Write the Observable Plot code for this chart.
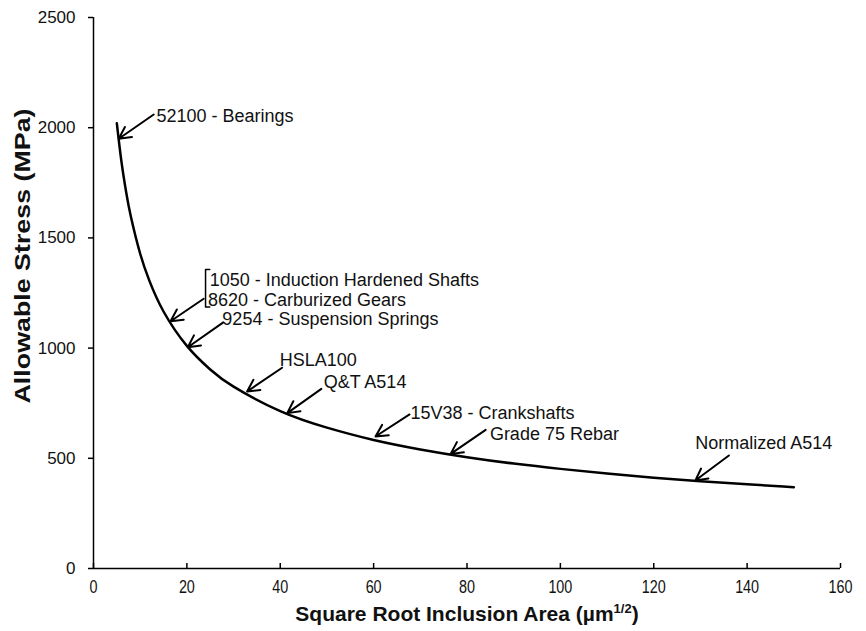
<!DOCTYPE html>
<html>
<head>
<meta charset="utf-8">
<script src="https://cdn.jsdelivr.net/npm/d3@7"></script>
<script src="https://cdn.jsdelivr.net/npm/@observablehq/plot@0.6"></script>
<style>
  html, body { margin: 0; padding: 0; background: #fff; }
  #chart { width: 866px; height: 631px; }
  svg { font-family: "Liberation Sans", Arial, sans-serif; }
</style>
</head>
<body>
<div id="chart"></div>
<script>
// Curve: allowable stress vs square root inclusion area
const curveX = [5, 6, 7, 8, 10, 12, 15, 20, 25, 30, 40, 50, 60, 70, 80, 90, 100, 110, 120, 130, 140, 150];
const curveY = [2020, 1844, 1707, 1597, 1428, 1304, 1166, 1010, 903, 825, 714, 639, 583, 540, 505, 476, 452, 431, 412, 396, 382, 369];

const xTicks = [0, 20, 40, 60, 80, 100, 120, 140, 160];
const yTicks = [0, 500, 1000, 1500, 2000, 2500];

// Annotations (data units)
const labelText = ["52100 - Bearings", "1050 - Induction Hardened Shafts", "8620 - Carburized Gears",
  "9254 - Suspension Springs", "HSLA100", "Q&T A514", "15V38 - Crankshafts", "Grade 75 Rebar", "Normalized A514"];
const labelX = [13.5, 24.9, 24.5, 27.6, 39.9, 49.3, 67.9, 84.9, 128.9];
const labelY = [2052, 1310, 1216, 1133, 947, 845, 705, 611, 568];

// Arrows: tail (from label) -> tip (on curve)
const arrowX1 = [12.9, 23.6, 27.8, 40.4, 48.8, 67.7, 84.0, 136.1];
const arrowY1 = [2060, 1224, 1117, 911, 815, 699, 629, 513];
const arrowX2 = [5.4, 16.5, 20.2, 32.9, 41.5, 60.4, 76.5, 128.9];
const arrowY2 = [1950, 1122, 1004, 803, 705, 599, 520, 399];

// Bracket joining 1050 and 8620 labels
const bracketX = [24.9, 24.0, 24.0, 24.9];
const bracketY = [1357, 1357, 1186, 1186];

const xTitle = "Square Root Inclusion Area (µm1/2)";
const yTitle = "Allowable Stress (MPa)";

const curve = curveX.map((x, i) => ({x, y: curveY[i]}));
const labels = labelText.map((t, i) => ({t, x: labelX[i], y: labelY[i]}));
const arrows = arrowX1.map((x1, i) => ({x1, y1: arrowY1[i], x2: arrowX2[i], y2: arrowY2[i]}));
const bracket = bracketX.map((x, i) => ({x, y: bracketY[i]}));

const chart = Plot.plot({
  width: 866,
  height: 631,
  marginLeft: 93,
  marginRight: 26,
  marginTop: 17,
  marginBottom: 63,
  style: {fontFamily: '"Liberation Sans", Arial, sans-serif', color: "#000", background: "#fff"},
  x: {domain: [0, 160]},
  y: {domain: [0, 2500]},
  marks: [
    Plot.axisY(yTicks, {tickSize: 5, tickPadding: 13, fontSize: 17, label: null, tickFormat: d => String(d),
      strokeWidth: 1.5, stroke: "#000", fill: "#111"}),
    Plot.axisX(xTicks, {tickSize: -5, tickFormat: () => "", label: null, strokeWidth: 1.5, stroke: "#000"}),
    Plot.axisX(xTicks, {tickSize: 0, tickPadding: 12, fontSize: 18, label: null, fill: "#111", tickFormat: d => String(d),
      className: "xticklabels"}),
    Plot.ruleY([0], {stroke: "#000", strokeWidth: 1.5}),
    Plot.ruleX([0], {stroke: "#000", strokeWidth: 1.5}),
    Plot.line(curve, {x: "x", y: "y", stroke: "#000", strokeWidth: 2.5, curve: "natural"}),
    Plot.arrow(arrows, {x1: "x1", y1: "y1", x2: "x2", y2: "y2", stroke: "#000", strokeWidth: 2, headLength: 10, headAngle: 55}),
    Plot.line(bracket, {x: "x", y: "y", stroke: "#000", strokeWidth: 1.5}),
    Plot.text(labels, {x: "x", y: "y", text: "t", textAnchor: "start", lineAnchor: "middle", fontSize: 18, fill: "#111"}),
    Plot.text([xTitle], {frameAnchor: "bottom", dy: 52, fontSize: 21, fontWeight: "bold", fill: "#111", className: "xtitle"}),
    Plot.text([yTitle], {frameAnchor: "left", dx: -71, dy: -37, rotate: -90, textAnchor: "middle",
      fontSize: 22, fontWeight: "bold", fill: "#111", className: "ytitle"})
  ]
});
document.getElementById("chart").appendChild(chart);

// Narrow (condensed) x tick labels as in the reference
d3.select(chart).selectAll("g.xticklabels text").each(function() {
  const len = this.getComputedTextLength();
  if (len > 0) {
    this.setAttribute("textLength", (len * 0.8).toFixed(1));
    this.setAttribute("lengthAdjust", "spacingAndGlyphs");
  }
});

// The y-axis title is drawn elongated in the reference
d3.select(chart).selectAll("g.ytitle text").each(function() {
  this.setAttribute("textLength", "295");
  this.setAttribute("lengthAdjust", "spacingAndGlyphs");
});

// Render the superscript 1/2 in the x-axis title
const t = d3.select(chart).select("g.xtitle text");
if (!t.empty()) {
  t.text(null);
  t.append("tspan").text("Square Root Inclusion Area (µm");
  t.append("tspan").attr("font-size", "13").attr("dy", "-0.55em").text("1/2");
  t.append("tspan").attr("dy", "0.35em").text(")");
}
</script>
</body>
</html>
